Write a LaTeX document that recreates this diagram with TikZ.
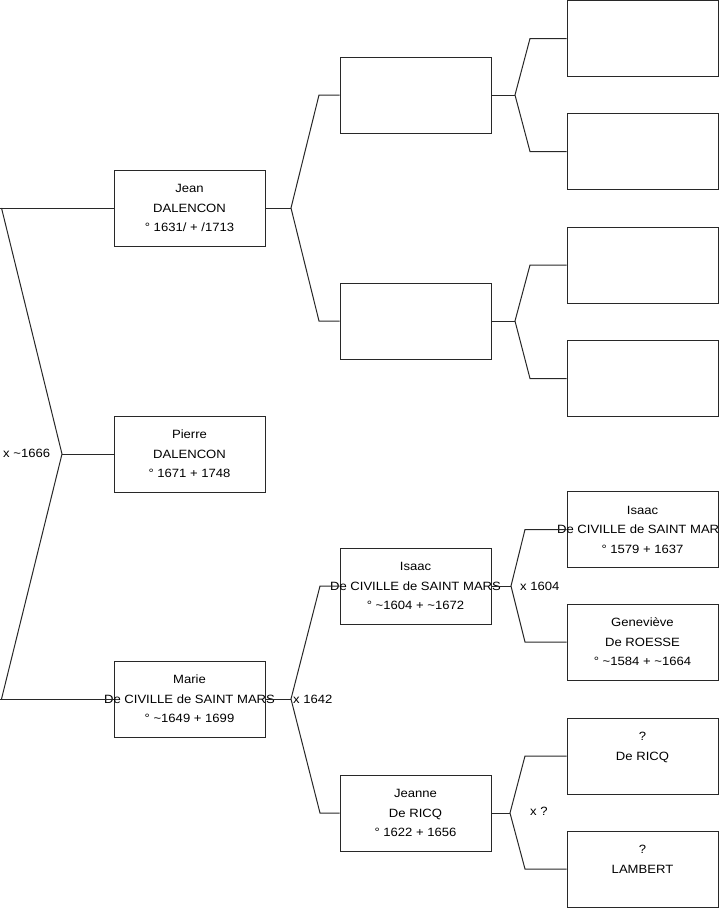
\documentclass[tikz,border=0pt]{standalone}
\usepackage{fontspec}
\setmainfont[FakeStretch=1.09]{Liberation Sans}
\definecolor{ln}{RGB}{40,40,40}
\newcommand{\cl}[1]{\makebox[0pt][c]{#1}}
\tikzset{
  person/.style={draw=ln, line width=1pt, rectangle, minimum width=151pt, minimum height=76pt,
    inner sep=0pt, align=center, font=\fontsize{12}{19.5}\selectfont, text=black},
  conn/.style={draw=ln, line width=1pt},
  marr/.style={anchor=west, inner sep=0pt, font=\fontsize{12}{14}\selectfont, text=black}
}
\begin{document}
\begin{tikzpicture}[x=1pt,y=-1pt]
\clip (0,0) rectangle (719,908);
\fill[white] (0,0) rectangle (719,908);
% generation 1
\node[person] (jean)   at (189.5,208) {\cl{Jean}\\\cl{DALENCON}\\\cl{° 1631/ + /1713}};
\node[person] (pierre) at (189.5,454) {\cl{Pierre}\\\cl{DALENCON}\\\cl{° 1671 + 1748}};
\node[person] (marie)  at (189.5,699) {\cl{Marie}\\\cl{De CIVILLE de SAINT MARS}\\\cl{° \textasciitilde1649 + 1699}};
% generation 2
\node[person] (pa)     at (415.5,95)  {};
\node[person] (pb)     at (415.5,321) {};
\node[person] (isaacp) at (415.5,586) {\cl{Isaac}\\\cl{De CIVILLE de SAINT MARS}\\\cl{° \textasciitilde1604 + \textasciitilde1672}};
\node[person] (jeanne) at (415.5,813) {\cl{Jeanne}\\\cl{De RICQ}\\\cl{° 1622 + 1656}};
% generation 3
\node[person] (g1) at (642.5,38.5)  {};
\node[person] (g2) at (642.5,151.5) {};
\node[person] (g3) at (642.5,265)   {};
\node[person] (g4) at (642.5,378.5) {};
\node[person] (isaacg) at (642.5,529.5) {\cl{Isaac}\\\cl{De CIVILLE de SAINT MARS}\\\cl{° 1579 + 1637}};
\node[person] (genev)  at (642.5,642)   {\cl{Geneviève}\\\cl{De ROESSE}\\\cl{° \textasciitilde1584 + \textasciitilde1664}};
\node[person] (ricq)   at (642.5,756)   {\cl{?}\\\cl{De RICQ}\\\cl{\phantom{0}}};
\node[person] (lamb)   at (642.5,869)   {\cl{?}\\\cl{LAMBERT}\\\cl{\phantom{0}}};
% junction coordinates
\coordinate (lj) at (62,454);
\coordinate (lt) at (1.5,208);
\coordinate (lb) at (1.5,699);
\coordinate (jj) at (291,208);
\coordinate (ja) at (319,95);
\coordinate (jb) at (319,321);
\coordinate (mj) at (291,699);
\coordinate (mi) at (320,586);
\coordinate (mr) at (320,813);
\coordinate (aj) at (515,95);
\coordinate (a1) at (530,38.5);
\coordinate (a2) at (530,151.5);
\coordinate (bj) at (515,321);
\coordinate (b1) at (530,265);
\coordinate (b2) at (530,378.5);
\coordinate (ij) at (511,586);
\coordinate (i1) at (525,529.5);
\coordinate (i2) at (525,642);
\coordinate (rj) at (510,813);
\coordinate (r1) at (525,756);
\coordinate (r2) at (525,869);
% connectors
\draw[conn] (jean.west) -- (0,208);
\draw[conn] (lt) -- (lj) -- (lb);
\draw[conn] (0,699) -- (marie.west);
\draw[conn] (lj) -- (pierre.west);
\draw[conn] (jean.east) -- (jj);
\draw[conn] (pa.west) -- (ja) -- (jj) -- (jb) -- (pb.west);
\draw[conn] (marie.east) -- (mj);
\draw[conn] (isaacp.west) -- (mi) -- (mj) -- (mr) -- (jeanne.west);
\draw[conn] (pa.east) -- (aj);
\draw[conn] (g1.west) -- (a1) -- (aj) -- (a2) -- (g2.west);
\draw[conn] (pb.east) -- (bj);
\draw[conn] (g3.west) -- (b1) -- (bj) -- (b2) -- (g4.west);
\draw[conn] (isaacp.east) -- (ij);
\draw[conn] (isaacg.west) -- (i1) -- (ij) -- (i2) -- (genev.west);
\draw[conn] (jeanne.east) -- (rj);
\draw[conn] (ricq.west) -- (r1) -- (rj) -- (r2) -- (lamb.west);
% marriage labels
\node[marr] (m1) at (3,453)   {x \textasciitilde1666};
\node[marr] (m2) at (293,699) {x 1642};
\node[marr] (m3) at (520,586) {x 1604};
\node[marr] (m4) at (530,811) {x ?};
\end{tikzpicture}
\end{document}
